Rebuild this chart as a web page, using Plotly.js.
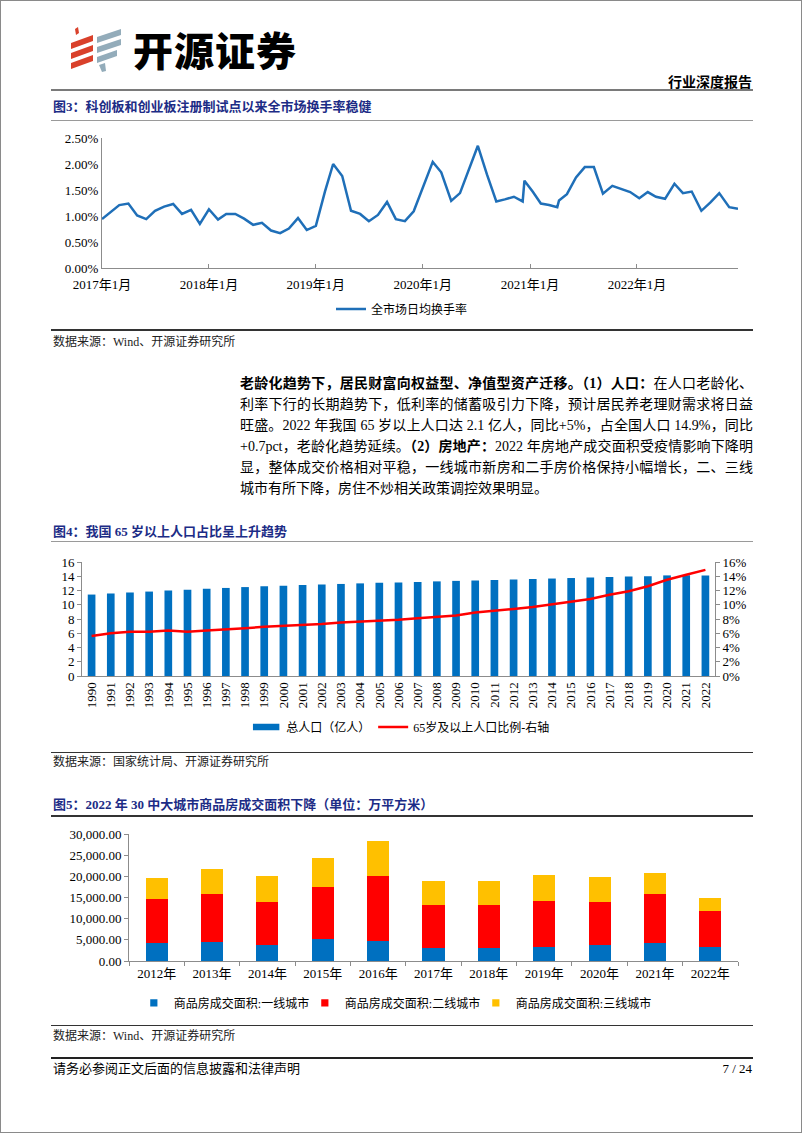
<!DOCTYPE html>
<html>
<head>
<meta charset="utf-8">
<script src="https://cdn.plot.ly/plotly-3.0.1.min.js"></script>
<style>
  body { margin: 0; background: #fff; }
  #page { position: relative; width: 802px; height: 1133px; border: 1px solid #8a8a8a; box-sizing: border-box; overflow: hidden;
          font-family: "Liberation Serif", "Noto Sans CJK SC", serif; color: #000; }
  .abs { position: absolute; }
  .rule { position: absolute; left: 50px; width: 702px; }
  .fig-title { position: absolute; left: 52px; font-size: 13px; font-weight: bold; color: #1c2c86; white-space: nowrap; }
  .source { position: absolute; left: 52px; font-size: 12px; color: #222; white-space: nowrap; }
  .para { position: absolute; left: 239px; width: 513px; font-size: 14px; line-height: 21px; }
  .para div { text-align: justify; text-align-last: justify; white-space: nowrap; }
  .para div.last { text-align-last: left; }
  .chart { position: absolute; left: 50px; width: 702px; }
</style>
</head>
<body>
<div id="page">
  <svg class="abs" style="left:64px;top:24px" width="60" height="50" viewBox="0 0 60 50">
    <path d="M10 4 L13 2 L14 8 L11 10 Z" fill="#d9412b"/>
    <polygon points="6,18 28,10 28,16 6,24" fill="#d9412b"/>
    <polygon points="6,28 28,20 28,26 6,34" fill="#d9412b"/>
    <polygon points="6,38 28,30 28,36 6,44" fill="#d9412b"/>
    <polygon points="32,12 56,4 56,10 32,18" fill="#93acba"/>
    <polygon points="32,22 56,14 56,20 32,28" fill="#93acba"/>
    <polygon points="32,32 52,25 52,31 32,38" fill="#93acba"/>
    <path d="M34 40 L40 38 L41 46 L37 47 Z" fill="#93acba"/>
  </svg>
  <div class="abs" style="left:132px;top:22px;font-family:'Noto Sans CJK SC';font-size:40px;font-weight:900;letter-spacing:1px;line-height:52px;">开源证券</div>
  <div class="abs" style="right:49px;top:71px;font-family:'Noto Sans CJK SC';font-size:14px;font-weight:bold;line-height:18px;">行业深度报告</div>
  <div class="rule" style="top:88px;height:2px;background:#7a7a7a;"></div>

  <div class="fig-title" style="top:97px;line-height:17px;">图3：科创板和创业板注册制试点以来全市场换手率稳健</div>
  <div class="rule" style="top:119px;height:1px;background:#9a9a9a;"></div>
  <div id="chart1" class="chart" style="top:125px;height:200px;"></div>
  <div class="rule" style="top:328px;height:2px;background:#333;"></div>
  <div class="source" style="top:333px;line-height:17px;">数据来源：Wind、开源证券研究所</div>

  <div class="para" style="top:372px;">
    <div><b>老龄化趋势下，居民财富向权益型、净值型资产迁移。（1）人口：</b>在人口老龄化、</div>
    <div>利率下行的长期趋势下，低利率的储蓄吸引力下降，预计居民养老理财需求将日益</div>
    <div>旺盛。2022 年我国 65 岁以上人口达 2.1 亿人，同比+5%，占全国人口 14.9%，同比</div>
    <div>+0.7pct，老龄化趋势延续。<b>（2）房地产：</b>2022 年房地产成交面积受疫情影响下降明</div>
    <div>显，整体成交价格相对平稳，一线城市新房和二手房价格保持小幅增长，二、三线</div>
    <div class="last">城市有所下降，房住不炒相关政策调控效果明显。</div>
  </div>

  <div class="fig-title" style="top:522px;line-height:17px;">图4：我国 65 岁以上人口占比呈上升趋势</div>
  <div class="rule" style="top:540px;height:1px;background:#9a9a9a;"></div>
  <div id="chart4" class="chart" style="top:545px;height:195px;"></div>
  <div class="rule" style="top:751px;height:1px;background:#333;"></div>
  <div class="source" style="top:753px;line-height:17px;">数据来源：国家统计局、开源证券研究所</div>

  <div class="fig-title" style="top:795px;line-height:17px;">图5：2022 年 30 中大城市商品房成交面积下降（单位：万平方米）</div>
  <div class="rule" style="top:814px;height:2px;background:#333;"></div>
  <div id="chart5" class="chart" style="top:820px;height:195px;"></div>
  <div class="rule" style="top:1024px;height:1px;background:#333;"></div>
  <div class="source" style="top:1027px;line-height:17px;">数据来源：Wind、开源证券研究所</div>
  <div class="rule" style="top:1056px;height:2px;background:#222;"></div>
  <div class="abs" style="left:52px;top:1059px;font-size:13px;line-height:18px;">请务必参阅正文后面的信息披露和法律声明</div>
  <div class="abs" style="right:49px;top:1059px;font-size:13px;line-height:18px;">7 / 24</div>
</div>

<script>
// Fig 3: whole-market average daily turnover rate (%)
const turnoverDates = [
  '2017-01-01','2017-02-01','2017-03-01','2017-04-01','2017-05-01','2017-06-01','2017-07-01','2017-08-01','2017-09-01','2017-10-01','2017-11-01','2017-12-01',
  '2018-01-01','2018-02-01','2018-03-01','2018-04-01','2018-05-01','2018-06-01','2018-07-01','2018-08-01','2018-09-01','2018-10-01','2018-11-01','2018-12-01',
  '2019-01-01','2019-02-01','2019-03-01','2019-04-01','2019-05-01','2019-06-01','2019-07-01','2019-08-01','2019-09-01','2019-10-01','2019-11-01','2019-12-01',
  '2020-01-01','2020-02-04','2020-03-04','2020-04-07','2020-05-07','2020-06-07','2020-07-07','2020-08-07','2020-09-08','2020-10-07','2020-11-07','2020-12-07','2020-12-13',
  '2021-01-10','2021-02-07','2021-03-07','2021-04-04','2021-04-10','2021-05-07','2021-06-07','2021-07-07','2021-08-07','2021-09-07','2021-10-09','2021-11-09','2021-12-09',
  '2022-01-09','2022-02-07','2022-03-07','2022-04-07','2022-05-09','2022-06-07','2022-07-07','2022-08-09','2022-09-09','2022-10-09','2022-11-12','2022-12-12'
];
const turnoverRates = [
  0.94, 1.09, 1.21, 1.24, 1.01, 0.94, 1.10, 1.18, 1.23, 1.04, 1.12, 0.85,
  1.13, 0.93, 1.04, 1.04, 0.95, 0.83, 0.87, 0.72, 0.67, 0.76, 0.96, 0.73,
  0.81, 1.47, 2.00, 1.77, 1.10, 1.04, 0.90, 1.02, 1.27, 0.94, 0.90, 1.09,
  1.55, 2.04, 1.84, 1.29, 1.44, 1.90, 2.35, 1.80, 1.28, 1.32, 1.37, 1.28, 1.68,
  1.47, 1.24, 1.21, 1.17, 1.30, 1.42, 1.74, 1.94, 1.94, 1.43, 1.58, 1.52, 1.46,
  1.34, 1.46, 1.37, 1.33, 1.62, 1.44, 1.47, 1.10, 1.26, 1.44, 1.17, 1.14
];
const turnoverTickDates = ['2017-01-01','2018-01-01','2019-01-01','2020-01-01','2021-01-01','2022-01-01'];
const turnoverTickText = ['2017年1月','2018年1月','2019年1月','2020年1月','2021年1月','2022年1月'];

// Fig 4: total population (100 million) and share aged 65+ (%)
const popYears = ['1990','1991','1992','1993','1994','1995','1996','1997','1998','1999','2000','2001','2002','2003','2004','2005','2006',
  '2007','2008','2009','2010','2011','2012','2013','2014','2015','2016','2017','2018','2019','2020','2021','2022'];
const popTotal = [11.43, 11.58, 11.72, 11.85, 11.99, 12.11, 12.24, 12.36, 12.48, 12.58, 12.67, 12.76, 12.85, 12.92, 13.00, 13.08, 13.14,
  13.21, 13.28, 13.35, 13.41, 13.47, 13.54, 13.61, 13.68, 13.75, 13.83, 13.90, 13.95, 14.00, 14.12, 14.13, 14.12];
const popAgedShare = [5.6, 6.0, 6.2, 6.2, 6.4, 6.2, 6.4, 6.5, 6.7, 6.9, 7.0, 7.1, 7.3, 7.5, 7.6, 7.7, 7.9,
  8.1, 8.3, 8.5, 8.9, 9.1, 9.4, 9.7, 10.1, 10.5, 10.8, 11.4, 11.9, 12.6, 13.5, 14.2, 14.9];

// Fig 5: commodity housing transaction area by city tier (10k sqm)
const houseYears = ['2012年','2013年','2014年','2015年','2016年','2017年','2018年','2019年','2020年','2021年','2022年'];
const tier1Area = [4160, 4480, 3770, 5100, 4800, 3060, 3000, 3400, 3850, 4300, 3400];
const tier2Area = [10440, 11420, 10230, 12300, 15200, 10140, 10200, 10800, 10150, 11600, 8300];
const tier3Area = [4900, 5900, 6000, 7000, 8300, 5600, 5700, 6000, 5800, 5000, 3200];

const baseFont = { family: 'Liberation Serif, "Noto Sans CJK SC", serif', size: 13, color: '#000' };
const legendFont = { family: 'Liberation Serif, "Noto Sans CJK SC", serif', size: 12, color: '#000' };
const axisGrey = '#8c8c8c';
const config = { displayModeBar: false, staticPlot: true };

// legend swatches for bars are drawn smaller than plotly's default square
function resizeBarSwatches(gd, sx, sy) {
  gd.querySelectorAll('.legend .legendpoints path').forEach(p => {
    const t = p.getAttribute('transform') || '';
    p.setAttribute('transform', `${t} scale(${sx},${sy})`);
  });
}

Plotly.newPlot('chart1', [{
  x: turnoverDates,
  y: turnoverRates,
  type: 'scatter',
  mode: 'lines',
  name: '全市场日均换手率',
  line: { color: '#1f6fb8', width: 2.5 }
}], {
  width: 702, height: 200,
  margin: { t: 12, r: 15, b: 58, l: 51 },
  paper_bgcolor: 'rgba(0,0,0,0)', plot_bgcolor: 'rgba(0,0,0,0)',
  font: baseFont,
  showlegend: true,
  legend: { orientation: 'h', xref: 'container', yref: 'container', x: 0.5, xanchor: 'center', y: 0.085, yanchor: 'middle', font: legendFont },
  xaxis: {
    type: 'date',
    range: [turnoverDates[0], turnoverDates[turnoverDates.length - 1]],
    tickmode: 'array', tickvals: turnoverTickDates, ticktext: turnoverTickText,
    ticks: 'inside', ticklen: 4, tickcolor: axisGrey,
    showline: true, linecolor: axisGrey, showgrid: false, zeroline: false,
    ticklabelstandoff: 4, automargin: false
  },
  yaxis: {
    range: [0, 2.5], dtick: 0.5, tickformat: '.2f', ticksuffix: '%',
    showline: true, linecolor: axisGrey, showgrid: false, zeroline: false,
    ticks: '', automargin: false
  }
}, config);

Plotly.newPlot('chart4', [{
  x: popYears,
  y: popTotal,
  type: 'bar',
  name: '总人口（亿人）',
  legendwidth: 82,
  marker: { color: '#0070c0' }
}, {
  x: popYears,
  y: popAgedShare,
  type: 'scatter',
  mode: 'lines',
  name: '65岁及以上人口比例-右轴',
  legendwidth: 150,
  yaxis: 'y2',
  line: { color: '#ff0000', width: 2.5 }
}], {
  width: 702, height: 195,
  margin: { t: 16, r: 38, b: 65, l: 31 },
  paper_bgcolor: 'rgba(0,0,0,0)', plot_bgcolor: 'rgba(0,0,0,0)',
  font: baseFont,
  bargap: 0.6,
  showlegend: true,
  legend: { orientation: 'h', xref: 'container', yref: 'container', x: 0.278, xanchor: 'left', y: 0.072, yanchor: 'middle',
            font: legendFont, traceorder: 'normal' },
  xaxis: {
    type: 'category', tickangle: -90,
    showline: true, linecolor: axisGrey, showgrid: false, zeroline: false,
    ticks: '', automargin: false
  },
  yaxis: {
    range: [0, 16], dtick: 2,
    showline: true, linecolor: axisGrey, showgrid: false, zeroline: false,
    ticks: 'outside', ticklen: 4, tickcolor: axisGrey, automargin: false
  },
  yaxis2: {
    overlaying: 'y', side: 'right',
    range: [0, 16], dtick: 2, ticksuffix: '%',
    showline: true, linecolor: axisGrey, showgrid: false, zeroline: false,
    ticks: 'outside', ticklen: 4, tickcolor: axisGrey, automargin: false
  }
}, config).then(gd => resizeBarSwatches(gd, 2.2, 0.55));

Plotly.newPlot('chart5', [{
  x: houseYears, y: tier1Area, type: 'bar', name: '商品房成交面积:一线城市', legendwidth: 126, marker: { color: '#0070c0' }
}, {
  x: houseYears, y: tier2Area, type: 'bar', name: '商品房成交面积:二线城市', legendwidth: 126, marker: { color: '#ff0000' }
}, {
  x: houseYears, y: tier3Area, type: 'bar', name: '商品房成交面积:三线城市', legendwidth: 145, marker: { color: '#ffc000' }
}], {
  width: 702, height: 195,
  margin: { t: 13, r: 15, b: 55, l: 78 },
  paper_bgcolor: 'rgba(0,0,0,0)', plot_bgcolor: 'rgba(0,0,0,0)',
  font: baseFont,
  barmode: 'stack',
  bargap: 0.6,
  showlegend: true,
  legend: { orientation: 'h', xref: 'container', yref: 'container', x: 0.118, xanchor: 'left', y: 0.067, yanchor: 'middle',
            font: legendFont, traceorder: 'normal' },
  xaxis: {
    type: 'category',
    showline: true, linecolor: axisGrey, showgrid: false, zeroline: false,
    ticks: 'outside', tickson: 'boundaries', ticklen: 4, tickcolor: axisGrey, automargin: false
  },
  yaxis: {
    range: [0, 30000], dtick: 5000, tickformat: ',.2f',
    showline: true, linecolor: axisGrey, showgrid: false, zeroline: false,
    ticks: 'outside', ticklen: 4, tickcolor: axisGrey, automargin: false
  }
}, config).then(gd => resizeBarSwatches(gd, 0.6, 0.6));
</script>
</body>
</html>
